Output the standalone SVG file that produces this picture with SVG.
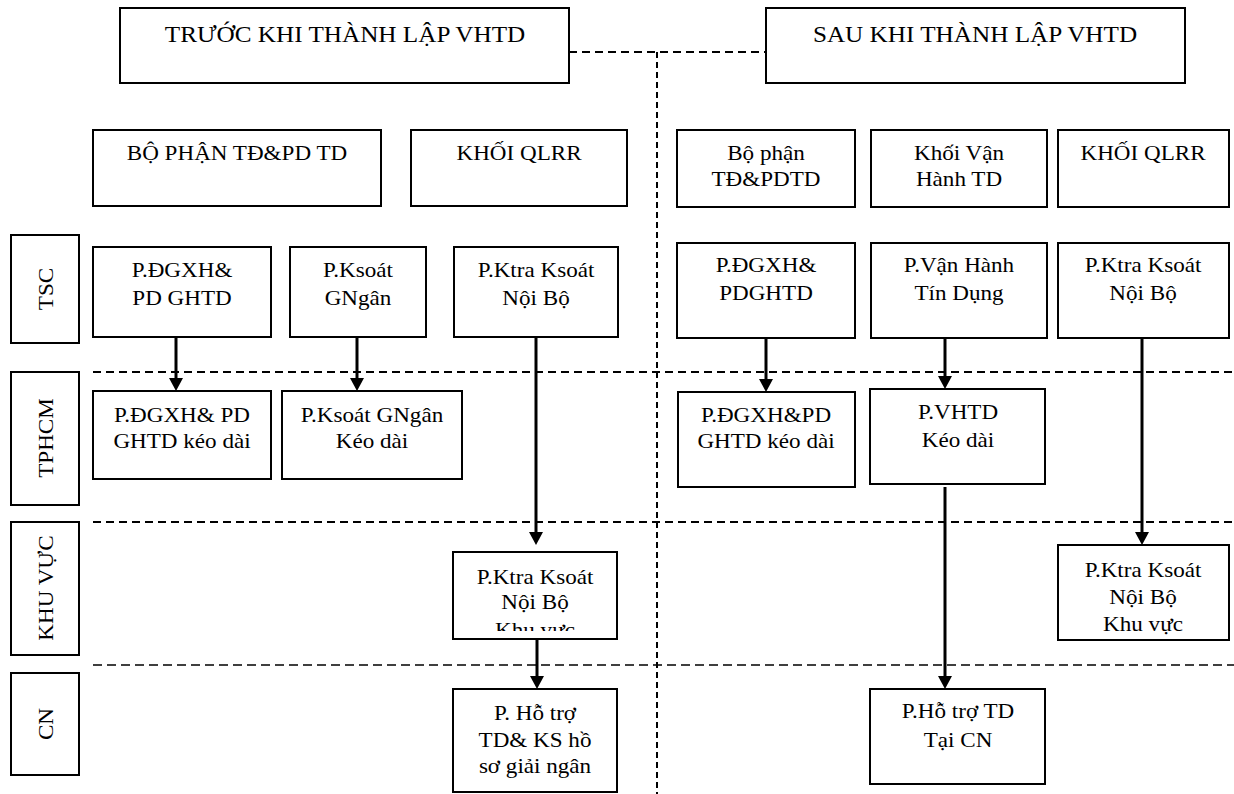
<svg xmlns="http://www.w3.org/2000/svg" width="1234" height="794" viewBox="0 0 1234 794">
  <defs>
    <style>
      .box { fill: #fff; stroke: #000; stroke-width: 2; }
      .t { font-family: "Liberation Serif", "Times New Roman", serif; font-size: 22px; fill: #000; text-anchor: middle; }
      .h { font-size: 24px; }
      .dash { fill: none; stroke: #000; stroke-width: 2; stroke-dasharray: 8 5; }
      .dash-thin { fill: none; stroke: #000; stroke-width: 1.4; stroke-dasharray: 9 5; }
      .vdash { fill: none; stroke: #000; stroke-width: 2; stroke-dasharray: 6 4; }
      .arrow { fill: none; stroke: #000; stroke-width: 3; marker-end: url(#head); }
    </style>
    <marker id="head" markerUnits="userSpaceOnUse" markerWidth="14" markerHeight="14" refX="3" refY="7" orient="auto">
      <path d="M0,0 L13,7 L0,14 z" fill="#000"/>
    </marker>
    <clipPath id="kvClip">
      <rect x="453" y="552" width="164" height="79"/>
    </clipPath>
  </defs>

  <!-- lane separators and the before/after divider -->
  <g id="separators">
    <path class="dash" d="M569,52 H766"/>
    <path class="vdash" d="M657,52 V794"/>
    <path class="dash" d="M93,372 H1234"/>
    <path class="dash" d="M93,522 H1234"/>
    <path class="dash-thin" d="M93,665 H1234"/>
  </g>

  <!-- level labels -->
  <g id="lane-tsc">
    <rect class="box" x="11" y="235" width="68" height="108"/>
    <text class="t" transform="translate(53,289) rotate(-90) scale(1.05,1)">TSC</text>
  </g>
  <g id="lane-tphcm">
    <rect class="box" x="11" y="372" width="68" height="133"/>
    <text class="t" transform="translate(53,438) rotate(-90) scale(1.05,1)">TPHCM</text>
  </g>
  <g id="lane-khuvuc">
    <rect class="box" x="11" y="522" width="68" height="133"/>
    <text class="t" transform="translate(53,588) rotate(-90) scale(1.05,1)">KHU VỰC</text>
  </g>
  <g id="lane-cn">
    <rect class="box" x="11" y="673" width="68" height="102"/>
    <text class="t" transform="translate(53,724) rotate(-90) scale(1.05,1)">CN</text>
  </g>

  <!-- headers -->
  <g id="hdr-before">
    <rect class="box" x="120" y="8" width="449" height="75"/>
    <text class="t h" transform="translate(345,42) scale(1.05,1)">TRƯỚC KHI THÀNH LẬP VHTD</text>
  </g>
  <g id="hdr-after">
    <rect class="box" x="766" y="8" width="419" height="75"/>
    <text class="t h" transform="translate(975,42) scale(1.05,1)">SAU KHI THÀNH LẬP VHTD</text>
  </g>

  <!-- before: divisions -->
  <g id="b-bophan">
    <rect class="box" x="93" y="130" width="288" height="76"/>
    <text class="t" transform="translate(237,160) scale(1.05,1)">BỘ PHẬN TĐ&amp;PD TD</text>
  </g>
  <g id="b-qlrr">
    <rect class="box" x="411" y="130" width="216" height="76"/>
    <text class="t" transform="translate(519,160) scale(1.05,1)">KHỐI QLRR</text>
  </g>

  <!-- before: head office -->
  <g id="b-tsc-dgxh">
    <rect class="box" x="93" y="247" width="178" height="90"/>
    <text class="t" transform="translate(182,277) scale(1.05,1)"><tspan x="0">P.ĐGXH&amp;</tspan><tspan x="0" dy="28">PD GHTD</tspan></text>
  </g>
  <g id="b-tsc-ksoat">
    <rect class="box" x="290" y="247" width="136" height="90"/>
    <text class="t" transform="translate(358,277) scale(1.05,1)"><tspan x="0">P.Ksoát</tspan><tspan x="0" dy="28">GNgân</tspan></text>
  </g>
  <g id="b-tsc-ktra">
    <rect class="box" x="454" y="247" width="164" height="90"/>
    <text class="t" transform="translate(536,277) scale(1.05,1)"><tspan x="0">P.Ktra Ksoát</tspan><tspan x="0" dy="28">Nội Bộ</tspan></text>
  </g>

  <!-- before: TPHCM -->
  <g id="b-hcm-dgxh">
    <rect class="box" x="93" y="391" width="178" height="88"/>
    <text class="t" transform="translate(182,422) scale(1.05,1)"><tspan x="0">P.ĐGXH&amp; PD</tspan><tspan x="0" dy="26">GHTD kéo dài</tspan></text>
  </g>
  <g id="b-hcm-ksoat">
    <rect class="box" x="282" y="391" width="180" height="88"/>
    <text class="t" transform="translate(372,422) scale(1.05,1)"><tspan x="0">P.Ksoát GNgân</tspan><tspan x="0" dy="26">Kéo dài</tspan></text>
  </g>

  <!-- before: region (last line is cut off by the box edge) -->
  <g id="b-kv-ktra">
    <rect class="box" x="453" y="552" width="164" height="87"/>
    <g clip-path="url(#kvClip)">
      <text class="t" transform="translate(535,584) scale(1.05,1)"><tspan x="0">P.Ktra Ksoát</tspan><tspan x="0" dy="25">Nội Bộ</tspan><tspan x="0" dy="28">Khu vực</tspan></text>
    </g>
  </g>

  <!-- before: branch -->
  <g id="b-cn-hotro">
    <rect class="box" x="453" y="689" width="164" height="103"/>
    <text class="t" transform="translate(535,720) scale(1.05,1)"><tspan x="0">P. Hỗ trợ</tspan><tspan x="0" dy="27">TD&amp; KS hồ</tspan><tspan x="0" dy="26">sơ giải ngân</tspan></text>
  </g>

  <!-- after: divisions -->
  <g id="a-bophan">
    <rect class="box" x="677" y="130" width="178" height="77"/>
    <text class="t" transform="translate(766,160) scale(1.05,1)"><tspan x="0">Bộ phận</tspan><tspan x="0" dy="26">TĐ&amp;PDTD</tspan></text>
  </g>
  <g id="a-vanhanh">
    <rect class="box" x="871" y="130" width="176" height="77"/>
    <text class="t" transform="translate(959,160) scale(1.05,1)"><tspan x="0">Khối Vận</tspan><tspan x="0" dy="26">Hành TD</tspan></text>
  </g>
  <g id="a-qlrr">
    <rect class="box" x="1058" y="130" width="171" height="77"/>
    <text class="t" transform="translate(1143,160) scale(1.05,1)">KHỐI QLRR</text>
  </g>

  <!-- after: head office -->
  <g id="a-tsc-dgxh">
    <rect class="box" x="677" y="243" width="178" height="95"/>
    <text class="t" transform="translate(766,272) scale(1.05,1)"><tspan x="0">P.ĐGXH&amp;</tspan><tspan x="0" dy="28">PDGHTD</tspan></text>
  </g>
  <g id="a-tsc-vanhanh">
    <rect class="box" x="871" y="243" width="176" height="95"/>
    <text class="t" transform="translate(959,272) scale(1.05,1)"><tspan x="0">P.Vận Hành</tspan><tspan x="0" dy="28">Tín Dụng</tspan></text>
  </g>
  <g id="a-tsc-ktra">
    <rect class="box" x="1058" y="243" width="171" height="95"/>
    <text class="t" transform="translate(1143,272) scale(1.05,1)"><tspan x="0">P.Ktra Ksoát</tspan><tspan x="0" dy="28">Nội Bộ</tspan></text>
  </g>

  <!-- after: TPHCM -->
  <g id="a-hcm-dgxh">
    <rect class="box" x="678" y="392" width="177" height="95"/>
    <text class="t" transform="translate(766,422) scale(1.05,1)"><tspan x="0">P.ĐGXH&amp;PD</tspan><tspan x="0" dy="26">GHTD kéo dài</tspan></text>
  </g>
  <g id="a-hcm-vhtd">
    <rect class="box" x="870" y="389" width="175" height="95"/>
    <text class="t" transform="translate(958,419) scale(1.05,1)"><tspan x="0">P.VHTD</tspan><tspan x="0" dy="28">Kéo dài</tspan></text>
  </g>

  <!-- after: region -->
  <g id="a-kv-ktra">
    <rect class="box" x="1058" y="545" width="171" height="95"/>
    <text class="t" transform="translate(1143,577) scale(1.05,1)"><tspan x="0">P.Ktra Ksoát</tspan><tspan x="0" dy="27">Nội Bộ</tspan><tspan x="0" dy="27">Khu vực</tspan></text>
  </g>

  <!-- after: branch -->
  <g id="a-cn-hotro">
    <rect class="box" x="870" y="689" width="175" height="95"/>
    <text class="t" transform="translate(958,718) scale(1.05,1)"><tspan x="0">P.Hỗ trợ TD</tspan><tspan x="0" dy="29">Tại CN</tspan></text>
  </g>

  <!-- reporting lines -->
  <g id="connectors">
    <path class="arrow" d="M176,337 V381"/>
    <path class="arrow" d="M357,337 V381"/>
    <path class="arrow" d="M536,337 V535"/>
    <path class="arrow" d="M537,639 V679"/>
    <path class="arrow" d="M766,338 V382"/>
    <path class="arrow" d="M945,338 V379"/>
    <path class="arrow" d="M1142,338 V535"/>
    <path class="arrow" d="M945,487 V679"/>
  </g>
</svg>
